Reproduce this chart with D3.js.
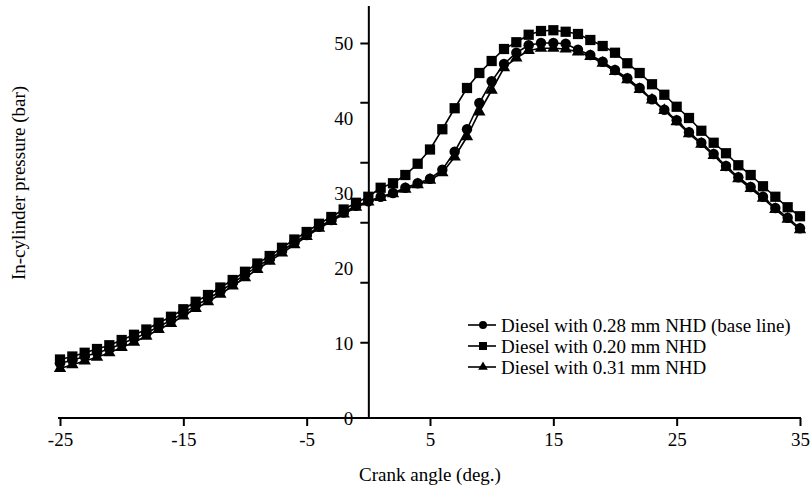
<!DOCTYPE html>
<html>
<head>
<meta charset="UTF-8">
<script src="https://cdn.jsdelivr.net/npm/d3@7"></script>
<style>
  body { margin: 0; background: #fff; }
  svg text { font-family: "Liberation Serif", "Times New Roman", Times, serif; fill: #000; }
</style>
</head>
<body>
<svg id="chart" width="811" height="489"></svg>
<script>
// crank angle, one point per degree
const angles = d3.range(-25, 36);

// Diesel with 0.28 mm NHD (base line)
const baseLine = [7.3, 7.7, 8.2, 8.7, 9.2, 9.9, 10.6, 11.3, 12.2, 13.0, 14.0, 15.0, 15.9, 16.9, 18.0, 19.1, 20.2, 21.2, 22.3, 23.4, 24.4, 25.5, 26.4, 27.4, 28.3, 28.9,
  29.5, 30.0, 30.7, 31.3, 31.9, 33.1, 35.5, 38.5, 42.0, 44.9, 47.2, 48.7, 49.7, 50.0, 50.0, 49.9, 49.1, 48.4, 47.5, 46.4, 45.3, 44.0, 42.5, 41.1, 39.7, 38.1, 36.7, 35.2, 33.6, 32.1, 30.8, 29.5, 28.0, 26.7, 25.3];
// Diesel with 0.20 mm NHD
const nhd020 = [7.8, 8.2, 8.7, 9.2, 9.7, 10.4, 11.1, 11.8, 12.7, 13.5, 14.5, 15.5, 16.4, 17.4, 18.4, 19.5, 20.6, 21.6, 22.7, 23.8, 24.8, 25.9, 26.8, 27.8, 28.7, 29.5,
  30.7, 31.3, 32.4, 33.9, 35.8, 38.5, 41.3, 44.0, 46.0, 47.6, 49.2, 50.1, 51.1, 51.6, 51.7, 51.5, 51.2, 50.4, 49.6, 48.7, 47.3, 46.0, 44.5, 43.1, 41.5, 40.0, 38.3, 36.7, 35.3, 33.7, 32.4, 30.9, 29.5, 28.1, 26.9];
// Diesel with 0.31 mm NHD
const nhd031 = [6.6, 7.1, 7.6, 8.1, 8.7, 9.4, 10.1, 10.9, 11.8, 12.6, 13.6, 14.6, 15.5, 16.5, 17.6, 18.7, 19.8, 20.9, 22.0, 23.1, 24.2, 25.3, 26.2, 27.2, 28.1, 28.8,
  29.4, 29.9, 30.5, 31.1, 31.7, 32.7, 34.8, 37.5, 40.8, 43.7, 46.7, 48.0, 49.0, 49.3, 49.3, 49.2, 48.8, 48.2, 47.3, 46.2, 45.1, 43.8, 42.4, 41.0, 39.5, 37.9, 36.5, 35.0, 33.4, 31.9, 30.6, 29.3, 27.8, 26.5, 25.1];

const seriesNames = ["Diesel with 0.28 mm NHD (base line)", "Diesel with 0.20 mm NHD", "Diesel with 0.31 mm NHD"];
const xTicks = [-25, -15, -5, 5, 15, 25, 35];
const yLabels = [0, 10, 20, 30, 40, 50];
// tick marks on the y axis do not sit on the labels in the original
const yTickMarks = [10.1, 18.1, 26.1, 34.1, 42.1, 50];

const svg = d3.select("#chart");
const x = d3.scaleLinear().domain([-25, 35]).range([60, 800]);
const y = d3.scaleLinear().domain([0, 55]).range([418, 5.5]);

const series = [
  { name: seriesNames[0], values: baseLine, symbol: d3.symbolCircle, size: 85, lsize: 50 },
  { name: seriesNames[1], values: nhd020, symbol: d3.symbolSquare, size: 105, lsize: 64 },
  { name: seriesNames[2], values: nhd031, symbol: d3.symbolTriangle, size: 66, lsize: 40 }
];

// x axis
const xAxis = svg.append("g")
  .attr("transform", "translate(0," + y(0) + ")")
  .call(d3.axisBottom(x).tickValues(xTicks).tickSize(8).tickPadding(7).tickSizeOuter(0)
    .tickFormat(d => "" + d));
xAxis.select(".domain").attr("stroke-width", 2).attr("d", "M58,0H801");
xAxis.selectAll(".tick line").attr("stroke-width", 2);
xAxis.selectAll("text").attr("font-size", 19).attr("font-family", "Liberation Serif");

// y axis sits at crank angle 0
const yAxis = svg.append("g")
  .attr("transform", "translate(" + x(0) + ",0)")
  .call(d3.axisLeft(y).tickValues(yTickMarks).tickSize(8).tickFormat("").tickSizeOuter(0));
yAxis.select(".domain").attr("stroke-width", 2);
yAxis.selectAll(".tick line").attr("stroke-width", 2);

svg.append("g").selectAll("text")
  .data(yLabels)
  .enter().append("text")
  .attr("x", x(0) - 15)
  .attr("y", d => y(d))
  .attr("dy", "0.35em")
  .attr("text-anchor", "end")
  .attr("font-size", 19)
  .text(d => d);

// lines and markers
const line = d3.line().x((d, i) => x(angles[i])).y(d => y(d));

series.forEach(s => {
  const g = svg.append("g");
  g.append("path")
    .datum(s.values)
    .attr("d", line)
    .attr("fill", "none")
    .attr("stroke", "#000")
    .attr("stroke-width", 1.6);
  g.selectAll("path.mark")
    .data(s.values)
    .enter().append("path")
    .attr("class", "mark")
    .attr("d", d3.symbol().type(s.symbol).size(s.size))
    .attr("transform", (d, i) => "translate(" + x(angles[i]) + "," + y(d) + ")")
    .attr("fill", "#000");
});

// legend
const legend = svg.append("g").attr("transform", "translate(468,325)");
series.forEach((s, i) => {
  const row = legend.append("g").attr("transform", "translate(0," + i * 21 + ")");
  row.append("line").attr("x1", 0).attr("x2", 28).attr("y1", 0).attr("y2", 0)
    .attr("stroke", "#000").attr("stroke-width", 1.6);
  row.append("path")
    .attr("d", d3.symbol().type(s.symbol).size(s.lsize))
    .attr("transform", "translate(15,0)")
    .attr("fill", "#000");
  row.append("text")
    .attr("x", 33)
    .attr("y", 0)
    .attr("dy", "0.35em")
    .attr("font-size", 19)
    .text(s.name);
});

// axis titles
svg.append("text")
  .attr("x", 430)
  .attr("y", 481)
  .attr("text-anchor", "middle")
  .attr("font-size", 19)
  .text("Crank angle (deg.)");

svg.append("text")
  .attr("transform", "translate(25,183) rotate(-90)")
  .attr("text-anchor", "middle")
  .attr("font-size", 19)
  .text("In-cylinder pressure (bar)");
</script>
</body>
</html>
